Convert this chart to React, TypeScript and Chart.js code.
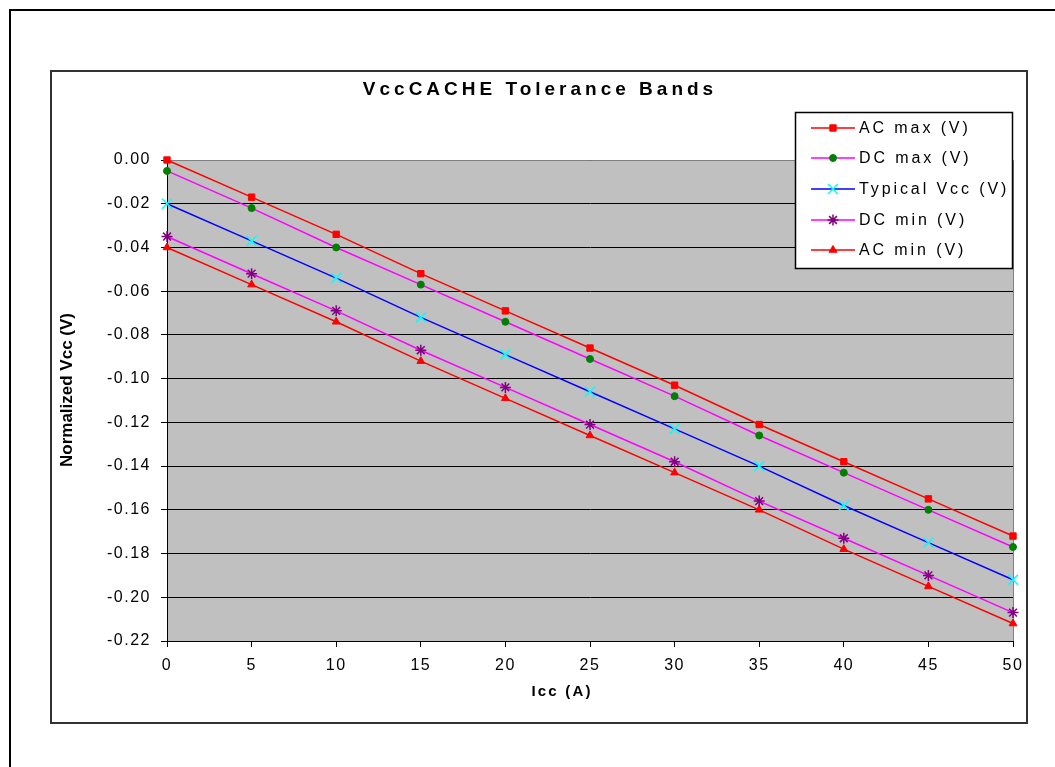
import React, { useEffect, useRef } from 'react';
import { Chart, registerables } from 'chart.js';
import * as helpers from 'chart.js/helpers';

Chart.register(...registerables);

const iccA = [0, 5, 10, 15, 20, 25, 30, 35, 40, 45, 50];
const acMax = [0, -0.017, -0.034, -0.052, -0.069, -0.086, -0.103, -0.121, -0.138, -0.155, -0.172];
const dcMax = [-0.005, -0.022, -0.04, -0.057, -0.074, -0.091, -0.108, -0.126, -0.143, -0.16, -0.177];
const typVcc = [-0.02, -0.037, -0.054, -0.072, -0.089, -0.106, -0.123, -0.14, -0.158, -0.175, -0.192];
const dcMin = [-0.035, -0.052, -0.069, -0.087, -0.104, -0.121, -0.138, -0.156, -0.173, -0.19, -0.207];
const acMin = [-0.04, -0.057, -0.074, -0.092, -0.109, -0.126, -0.143, -0.16, -0.178, -0.195, -0.212];
const seriesNames = ['AC max (V)', 'DC max (V)', 'Typical Vcc (V)', 'DC min (V)', 'AC min (V)'];
const chartTitle = 'VccCACHE Tolerance Bands';
const xTitle = 'Icc (A)';
const yTitle = 'Normalized Vcc (V)';

const FONT = "'Liberation Sans', Arial, sans-serif";

export default function App() {
  const ref = useRef<HTMLCanvasElement>(null);

  useEffect(() => {
    document.body.style.overflow = 'hidden';
    const canvas = ref.current!;
    const series = [
      { label: seriesNames[0], data: acMax, line: '#ff0000', marker: '#ff0000', style: 'rect', radius: 4.5, bw: 1 },
      { label: seriesNames[1], data: dcMax, line: '#ff00ff', marker: '#008000', style: 'circle', radius: 3.5, bw: 1 },
      { label: seriesNames[2], data: typVcc, line: '#0000ff', marker: '#00ffff', style: 'crossRot', radius: 7, bw: 1.5 },
      { label: seriesNames[3], data: dcMin, line: '#ff00ff', marker: '#800080', style: 'star', radius: 5.5, bw: 1.5 },
      { label: seriesNames[4], data: acMin, line: '#ff0000', marker: '#ff0000', style: 'triangle', radius: 4.5, bw: 1 },
    ];

    const framePlugin = {
      id: 'framePlugin',
      beforeDraw(chart: any) {
        const { ctx, chartArea: a } = chart;
        ctx.letterSpacing = '1.5px';
        ctx.save();
        ctx.fillStyle = '#c0c0c0';
        ctx.fillRect(a.left, a.top, a.right - a.left, a.bottom - a.top);
        ctx.restore();
      },
      beforeDatasetsDraw(chart: any) {
        const { ctx, chartArea: a } = chart;
        ctx.save();
        ctx.strokeStyle = '#808080';
        ctx.lineWidth = 1;
        ctx.beginPath();
        ctx.moveTo(a.left + 1, Math.round(a.top) + 0.5);
        ctx.lineTo(Math.round(a.right) + 0.5, Math.round(a.top) + 0.5);
        ctx.lineTo(Math.round(a.right) + 0.5, a.bottom);
        ctx.stroke();
        ctx.restore();
      },
      afterDraw(chart: any) {
        const { ctx } = chart;
        ctx.save();
        ctx.fillStyle = '#000';
        ctx.textBaseline = 'middle';
        ctx.textAlign = 'center';
        // chart title
        ctx.letterSpacing = '4px';
        ctx.font = `bold 19px ${FONT}`;
        ctx.fillText(chartTitle, 488, 18);
        // x title
        ctx.letterSpacing = '2.2px';
        ctx.font = `bold 15px ${FONT}`;
        ctx.fillText(xTitle, 510, 620);
        // y title
        ctx.letterSpacing = '0px';
        ctx.font = `bold 17px ${FONT}`;
        ctx.save();
        ctx.translate(15, 318);
        ctx.rotate(-Math.PI / 2);
        ctx.fillText(yTitle, 0, 0);
        ctx.restore();
        // legend
        const bx = 743, by = 40, bw = 217, bh = 156;
        ctx.fillStyle = '#fff';
        ctx.fillRect(bx, by, bw, bh);
        ctx.strokeStyle = '#000';
        ctx.lineWidth = 1.5;
        ctx.strokeRect(bx + 0.5, by + 0.5, bw, bh);
        const rows = [56, 86, 117, 148, 178];
        series.forEach((s, i) => {
          const y = rows[i];
          ctx.strokeStyle = s.line;
          ctx.lineWidth = 1.5;
          ctx.beginPath();
          ctx.moveTo(759, y);
          ctx.lineTo(803, y);
          ctx.stroke();
          ctx.fillStyle = s.marker;
          ctx.strokeStyle = s.marker;
          ctx.lineWidth = s.bw;
          helpers.drawPoint(ctx, { pointStyle: s.style as any, rotation: 0, radius: s.radius, borderWidth: s.bw }, 781, y);
          ctx.fillStyle = '#000';
          ctx.textAlign = 'left';
          ctx.letterSpacing = '2.9px';
          ctx.font = `16px ${FONT}`;
          ctx.fillText(s.label, 807, y + 1);
        });
        ctx.restore();
      },
    };

    const chart = new Chart(canvas, {
      type: 'line',
      data: {
        datasets: series.map((s) => ({
          label: s.label,
          data: iccA.map((x, i) => ({ x, y: s.data[i] })),
          borderColor: s.line,
          backgroundColor: s.marker,
          borderWidth: 1.5,
          pointStyle: s.style as any,
          pointRadius: s.radius,
          pointBackgroundColor: s.marker,
          pointBorderColor: s.marker,
          pointBorderWidth: s.bw,
          tension: 0,
          fill: false,
          clip: false as any,
        })),
      },
      options: {
        animation: false,
        responsive: false,
        events: [],
        layout: { padding: { top: 88, right: 13, left: 0, bottom: 0 } },
        plugins: {
          legend: { display: false },
          title: { display: false },
          tooltip: { enabled: false },
        },
        scales: {
          x: {
            type: 'linear',
            min: 0,
            max: 50,
            afterFit: (s: any) => { s.height = 81; s.paddingLeft = 0; s.paddingRight = 0; },
            ticks: { stepSize: 5, color: '#000', font: { family: FONT, size: 16 }, padding: 9, maxRotation: 0 },
            grid: { drawOnChartArea: false, drawTicks: true, tickLength: 6, tickColor: '#000', color: '#000' },
            border: { display: true, color: '#000', width: 1 },
          },
          y: {
            type: 'linear',
            min: -0.22,
            max: 0,
            afterFit: (s: any) => { s.width = 115; s.paddingTop = 0; s.paddingBottom = 0; },
            ticks: {
              stepSize: 0.02,
              color: '#000',
              font: { family: FONT, size: 16 },
              padding: 10,
              callback: (v: any) => (Math.abs(Number(v)) < 1e-9 ? '0.00' : Number(v).toFixed(2)),
            },
            grid: { color: '#000', lineWidth: 1, drawTicks: true, tickLength: 6, tickColor: '#000' },
            border: { display: true, color: '#000', width: 1 },
          },
        },
      },
      plugins: [framePlugin],
    });
    return () => chart.destroy();
  }, []);

  return (
    <>
      <div
        style={{
          position: 'fixed', left: 9, top: 9, width: 2000, height: 2000,
          border: '2px solid #000', boxSizing: 'border-box', background: '#fff',
        }}
      />
      <div
        style={{
          position: 'fixed', left: 50, top: 70, width: 978, height: 654,
          border: '2px solid #333', boxSizing: 'border-box', background: '#fff',
        }}
      >
        <canvas ref={ref} width={974} height={650} style={{ display: 'block', width: 974, height: 650 }} />
      </div>
    </>
  );
}
